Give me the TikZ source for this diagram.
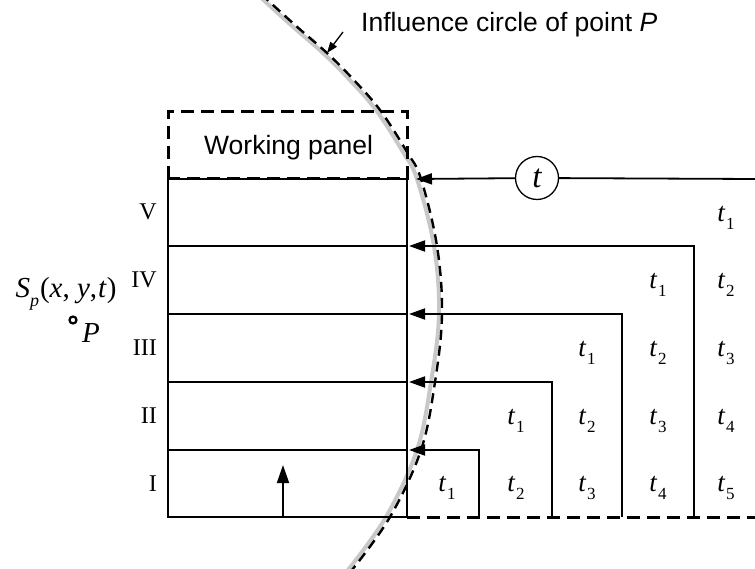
\documentclass[tikz,border=0pt]{standalone}
\usepackage{fontspec}
\setmainfont{Liberation Serif}
\newfontfamily\sansf{Liberation Sans}
\usetikzlibrary{arrows.meta}
\definecolor{arcgray}{RGB}{200,200,200}
\newcommand{\tsub}[1]{\textit{t}\kern0.5pt\raisebox{-0.32em}{\fontsize{17}{17}\selectfont #1}}
\begin{document}
\begin{tikzpicture}[x=1pt,y=-1pt,
  ln/.style={line width=1.8pt},
  arr/.style={ln,-{Triangle[length=16pt,width=11pt]}},
  dsh/.style={line width=3pt,dash pattern=on 13pt off 7pt},
  rom/.style={anchor=east,inner sep=0pt,font=\fontsize{24}{24}\selectfont},
  tl/.style={inner sep=0pt,font=\fontsize{27}{27}\selectfont},
  sans/.style={inner sep=0pt,font=\sansf\fontsize{26.5}{30}\selectfont}]
\useasboundingbox (0,0) rectangle (755,569);
% influence arc (gray)
\begin{scope}
\clip (0,0) rectangle (755,569);
\draw[line width=4pt,color=arcgray] plot[smooth,tension=0.6] coordinates {(257,-6) (291,25) (323,53) (348,78) (376,110) (403,152) (417,179) (434,246) (439,314) (431,382) (417,450) (386,517) (348,570)};
\end{scope}
% coordinates
\coordinate (A5) at (168,179); \coordinate (B5) at (407,179);
\coordinate (A4) at (168,246); \coordinate (B4) at (407,246);
\coordinate (A3) at (168,314); \coordinate (B3) at (407,314);
\coordinate (A2) at (168,382); \coordinate (B2) at (407,382);
\coordinate (A1) at (168,450); \coordinate (B1) at (407,450);
\coordinate (A0) at (168,517); \coordinate (B0) at (407,517);
\coordinate (E0) at (755,517); \coordinate (E5) at (755,179);
\coordinate (WP) at (168,112);
\coordinate (S4) at (694,517); \coordinate (K4) at (694,246); \coordinate (T4) at (409,246);
\coordinate (S3) at (622,517); \coordinate (K3) at (622,314); \coordinate (T3) at (409,314);
\coordinate (S2) at (552,517); \coordinate (K2) at (552,382); \coordinate (T2) at (409,382);
\coordinate (S1) at (479,517); \coordinate (K1) at (479,450); \coordinate (T1) at (409,450);
\coordinate (T5) at (416,179);
\coordinate (U0) at (283,517); \coordinate (U1) at (283,465);
% grid
\draw[ln] (A5) -- (A0) -- (B0);
\draw[ln] (B5) -- (B0);
\draw[ln] (A5) -- (B5);
\foreach \i in {1,2,3,4} \draw[ln] (A\i) -- (B\i);
\draw[dsh] (B0) -- (E0);
\draw[dsh] (A5) -- (WP) -| (B5) -- cycle;
% circle t and top line
\node[draw,circle,line width=1.3pt,minimum size=43pt,inner sep=0pt,fill=white,
  font=\fontsize{33}{33}\selectfont\itshape] (tc) at (537,178) {t};
\draw[ln] (E5) -- (tc);
\draw[arr] (tc) -- (T5);
% staircase arrows
\foreach \i in {1,2,3,4} \draw[arr] (S\i) -- (K\i) -- (T\i);
% up arrow
\draw[ln,-{Triangle[length=18pt,width=12pt]}] (U0) -- (U1);
% dashed arc
\begin{scope}
\clip (0,0) rectangle (755,569);
\draw[line width=2.4pt,dash pattern=on 10pt off 6pt] plot[smooth,tension=0.6] coordinates {(261,-6) (295,25) (327,53) (352,78) (380,110) (407,152) (421,179) (437,246) (442,314) (435,382) (421,450) (390,517) (352,570)};
\end{scope}
% labels
\node[sans,anchor=base west] (inf) at (361,32) {Influence circle of point {\itshape P}};
\coordinate (ia) at (343,32); \coordinate (ib) at (327,53);
\draw[line width=1.3pt,-{Triangle[length=11pt,width=8pt]}] (ia) -- (ib);
\node[sans,anchor=base west] (wp) at (204,155) {Working panel};
\node[rom] (rV) at (157,212) {V};
\node[rom] (rIV) at (157,280) {IV};
\node[rom] (rIII) at (157,348) {III};
\node[rom] (rII) at (157,416) {II};
\node[rom] (rI) at (157,484) {I};
% t labels
\node[tl] (t51) at (726,218) {\tsub{1}};
\node[tl] (t41) at (658,285) {\tsub{1}};
\node[tl] (t42) at (726,285) {\tsub{2}};
\node[tl] (t31) at (587,353) {\tsub{1}};
\node[tl] (t32) at (658,353) {\tsub{2}};
\node[tl] (t33) at (726,353) {\tsub{3}};
\node[tl] (t21) at (516,421) {\tsub{1}};
\node[tl] (t22) at (587,421) {\tsub{2}};
\node[tl] (t23) at (658,421) {\tsub{3}};
\node[tl] (t24) at (726,421) {\tsub{4}};
\node[tl] (t11) at (447,488) {\tsub{1}};
\node[tl] (t12) at (516,488) {\tsub{2}};
\node[tl] (t13) at (587,488) {\tsub{3}};
\node[tl] (t14) at (658,488) {\tsub{4}};
\node[tl] (t15) at (726,488) {\tsub{5}};
% point P
\node[inner sep=0pt,font=\fontsize{29}{29}\selectfont] (sp) at (66,294) {\textit{S}\raisebox{-0.3em}{\fontsize{18}{18}\selectfont\textit{p}}\kern1pt(\textit{x}, \textit{y},\kern1pt\textit{t})};
\node[draw,circle,line width=2.2pt,minimum size=7pt,inner sep=0pt] (pd) at (73,320) {};
\node[inner sep=0pt,font=\fontsize{29}{29}\selectfont\itshape] (pl) at (91,333) {P};
\end{tikzpicture}
\end{document}
